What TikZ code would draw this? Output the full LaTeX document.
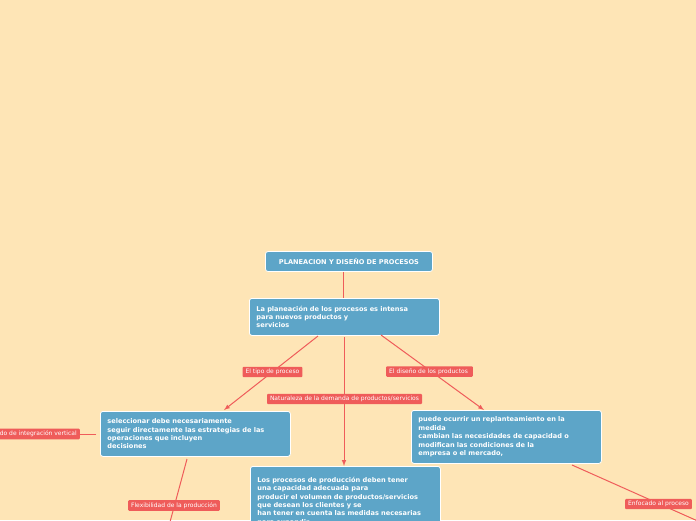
\documentclass[tikz,border=0pt]{standalone}
\usepackage{fontspec}
\setmainfont{DejaVu Sans}
\begin{document}
\begin{tikzpicture}[x=1pt,y=-1pt,
  box/.style={fill=boxc,draw=white,line width=0.8pt,rounded corners=2.5pt,text=white,font=\bfseries\fontsize{6.6}{8.4}\selectfont,align=left,inner xsep=7pt,inner ysep=4pt,anchor=north west,text width=#1},
  lab/.style={fill=labc,rounded corners=1pt,text=white,font=\fontsize{6}{6.5}\selectfont,inner xsep=3pt,inner ysep=2.3pt},
  con/.style={draw=labc,line width=1pt},
  arr/.style={con,-latex}]
\definecolor{boxc}{HTML}{5DA5C8}
\definecolor{labc}{HTML}{EF5C5A}
\definecolor{bgc}{HTML}{FEE5B6}
\fill[bgc] (0,0) rectangle (696,520);
\useasboundingbox (0,0) rectangle (696,520);
\clip (0,0) rectangle (696,520);
\node[fill=boxc,draw=white,line width=0.8pt,rounded corners=2.5pt,text=white,font=\bfseries\fontsize{6.6}{7}\selectfont,minimum width=167pt,minimum height=20pt] (t) at (349,261.5) {PLANEACION Y DISEÑO DE PROCESOS};
\node[box=176pt,minimum height=37pt] (m) at (249,298) {La planeación de los procesos es intensa\\para nuevos productos y\\servicios};
\node[box=176pt,minimum height=45pt] (l) at (100,411) {seleccionar debe necesariamente\\seguir directamente las estrategias de las\\operaciones que incluyen\\decisiones};
\node[box=176pt,minimum height=53pt] (r) at (411,410) {puede ocurrir un replanteamiento en la\\medida\\cambian las necesidades de capacidad o\\modifican las condiciones de la\\empresa o el mercado,};
\node[box=176pt,minimum height=70pt] (b) at (250,466) {Los procesos de producción deben tener\\una capacidad adecuada para\\producir el volumen de productos/servicios\\que desean los clientes y se\\han tener en cuenta las medidas necesarias\\para expandir};
\coordinate (m1) at (318,336);
\coordinate (m2) at (344,337);
\coordinate (m3) at (381,335);
\coordinate (l1) at (224,410);
\coordinate (b1) at (344,466);
\coordinate (r1) at (484,410);
\coordinate (l2) at (96,434);
\coordinate (l3) at (187,459);
\coordinate (lend) at (170,522);
\coordinate (r2) at (572,465);
\coordinate (rend) at (700,522);
\draw[con] (t.south -| 343,0) -- (m.north -| 343,0);
\draw[arr] (m1) -- (l1);
\draw[arr] (m2) -- (b1);
\draw[arr] (m3) -- (r1);
\draw[con] (l2) -- (80,434);
\draw[con] (l3) -- (lend);
\draw[con] (r2) -- (rend);
\node[lab] (a1) at (272.5,372) {El tipo de proceso};
\node[lab] (a2) at (344.5,399) {Naturaleza de la demanda de productos/servicios};
\node[lab] (a3) at (429.5,371.5) {El diseño de los productos\ \ };
\node[lab,anchor=east] (a4) at (80,434) {Grado de integración vertical};
\node[lab] (a5) at (174,505.5) {Flexibilidad de la producción};
\node[lab,anchor=west] (a6) at (625,504) {Enfocado al proceso};
\end{tikzpicture}
\end{document}
